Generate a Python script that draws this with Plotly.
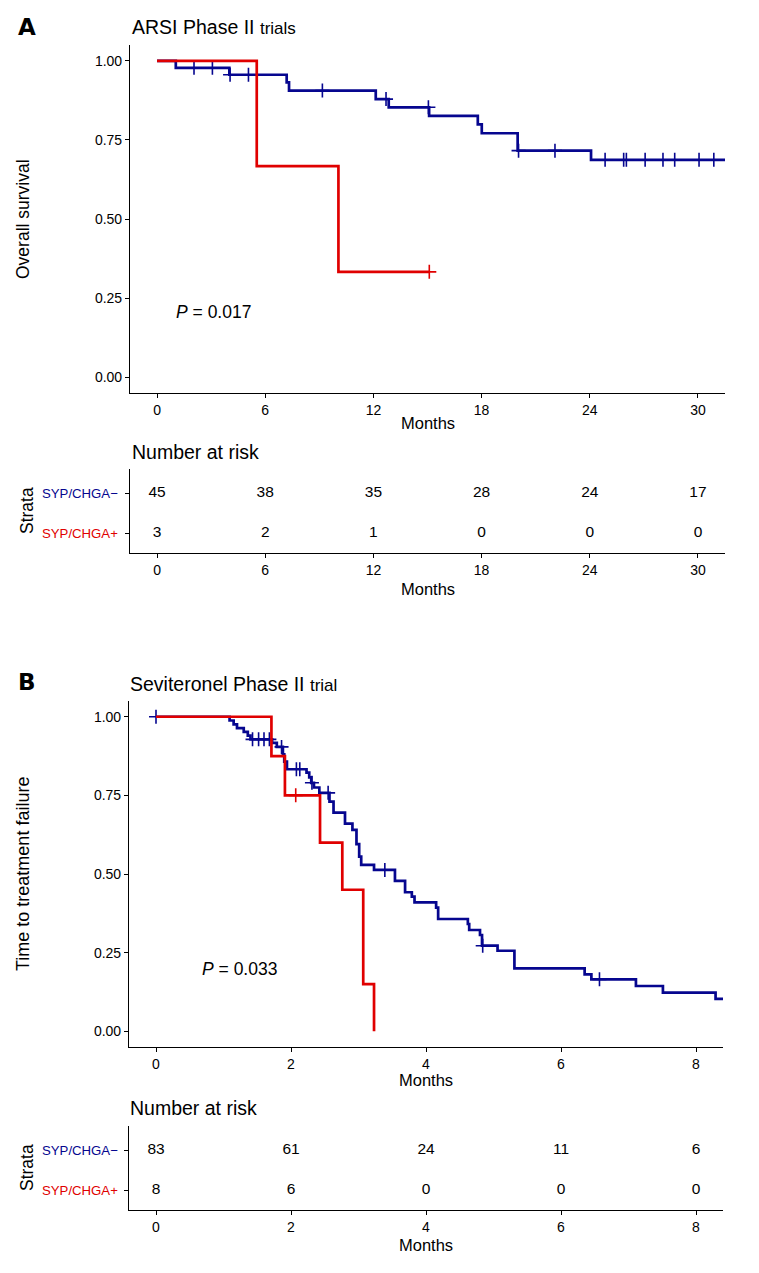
import numpy as np
import plotly.graph_objects as go

W, H = 759, 1273

# ---------------- Panel A data (ARSI Phase II trials) ----------------
a_neg_t = [0, 1.04, 4.01, 7.19, 7.32, 12.13, 12.85, 15.09, 17.79, 18.01, 20.00, 24.07, 33.0]
a_neg_s = [1.0, 0.978, 0.956, 0.932, 0.906, 0.879, 0.853, 0.826, 0.799, 0.771, 0.716, 0.687, 0.687]
a_neg_cens = [2.05, 3.07, 4.05, 5.07, 9.17, 12.7, 15.05, 20.05, 22.07, 24.85, 25.88, 26.03,
              27.07, 28.06, 28.71, 30.06, 30.88]
a_pos_t = [0, 5.53, 10.06, 15.1]
a_pos_s = [1.0, 0.667, 0.333, 0.333]
a_pos_cens = [15.1]

a_risk_times = [0, 6, 12, 18, 24, 30]
a_risk_neg = [45, 38, 35, 28, 24, 17]
a_risk_pos = [3, 2, 1, 0, 0, 0]

# ---------------- Panel B data (Seviteronel Phase II trial) ----------------
b_neg_t = [0, 1.09, 1.15, 1.20, 1.30, 1.36, 1.40, 1.72, 1.79, 1.88, 1.90, 1.94, 2.23, 2.27,
           2.30, 2.34, 2.42, 2.57, 2.63, 2.80, 2.91, 2.97, 3.01, 3.04, 3.23, 3.54, 3.69,
           3.79, 3.83, 4.15, 4.18, 4.62, 4.64, 4.80, 4.83, 5.06, 5.31, 6.35, 6.45, 7.11,
           7.51, 8.29, 8.6]
b_neg_s = [1.0, 0.988, 0.976, 0.964, 0.952, 0.940, 0.928, 0.917, 0.904, 0.880, 0.857, 0.833,
           0.822, 0.807, 0.790, 0.775, 0.758, 0.730, 0.695, 0.660, 0.640, 0.595, 0.555,
           0.529, 0.513, 0.478, 0.442, 0.428, 0.410, 0.393, 0.357, 0.341, 0.322, 0.306,
           0.272, 0.256, 0.200, 0.181, 0.165, 0.144, 0.123, 0.103, 0.103]
b_neg_cens = [0.0, 1.43, 1.52, 1.60, 1.68, 1.86, 2.08, 2.13, 2.31, 2.55, 3.39, 4.84, 6.57]
b_pos_t = [0, 1.71, 1.91, 2.43, 2.76, 3.07, 3.23]
b_pos_s = [1.0, 0.875, 0.75, 0.60, 0.45, 0.15, 0.0]
b_pos_cens = [2.07]

b_risk_times = [0, 2, 4, 6, 8]
b_risk_neg = [83, 61, 24, 11, 6]
b_risk_pos = [8, 6, 0, 0, 0]

strata = ["SYP/CHGA\u2212", "SYP/CHGA+"]
BLUE = "#06068F"
RED = "#E00000"
FONT = "Liberation Sans, Arial, Helvetica, sans-serif"
NARROW = "Liberation Sans Narrow, Liberation Sans, Arial, sans-serif"


def surv_at(times, survs, c):
    idx = np.searchsorted(np.array(times), np.array(c), side="right") - 1
    return list(np.array(survs)[idx])


def px(x):
    return x / W


def py(y):
    return 1 - y / H


fig = go.Figure()


def add_curves(t, s, cens, color, xa, ya):
    fig.add_trace(go.Scatter(x=t, y=s, mode="lines", line=dict(color=color, width=2.7, shape="hv"),
                             xaxis=xa, yaxis=ya, showlegend=False, hoverinfo="skip"))
    fig.add_trace(go.Scatter(x=cens, y=surv_at(t, s, cens), mode="markers",
                             marker=dict(symbol="cross-thin", size=10, line=dict(color=color, width=1.6)),
                             xaxis=xa, yaxis=ya, showlegend=False, hoverinfo="skip"))


add_curves(a_neg_t, a_neg_s, a_neg_cens, BLUE, "x", "y")
add_curves(a_pos_t, a_pos_s, a_pos_cens, RED, "x", "y")
add_curves(b_neg_t, b_neg_s, b_neg_cens, BLUE, "x3", "y3")
add_curves(b_pos_t, b_pos_s, b_pos_cens, RED, "x3", "y3")


def add_table(times, neg, pos, xa, ya):
    fig.add_trace(go.Scatter(x=times, y=[2] * len(times), text=[str(v) for v in neg], mode="text",
                             textfont=dict(family=NARROW, size=15.5, color="black"),
                             xaxis=xa, yaxis=ya, showlegend=False, hoverinfo="skip"))
    fig.add_trace(go.Scatter(x=times, y=[1] * len(times), text=[str(v) for v in pos], mode="text",
                             textfont=dict(family=NARROW, size=15.5, color="black"),
                             xaxis=xa, yaxis=ya, showlegend=False, hoverinfo="skip"))


add_table(a_risk_times, a_risk_neg, a_risk_pos, "x2", "y2")
add_table(b_risk_times, b_risk_neg, b_risk_pos, "x4", "y4")

axis_common = dict(showgrid=False, zeroline=False, showline=True, linecolor="black", linewidth=1.1,
                   ticks="outside", ticklen=4, tickwidth=1.1, tickcolor="black")

xA = [px(130), px(725)]
xB = [px(129), px(723)]
XT = dict(family=NARROW, size=14)
YT = dict(family=FONT, size=14)

layout = dict(
    width=W, height=H, margin=dict(l=0, r=0, t=0, b=0),
    paper_bgcolor="white", plot_bgcolor="white", showlegend=False,
    font=dict(family=FONT, color="black"),
    xaxis=dict(domain=xA, anchor="y", range=[-1.5, 31.5], tickvals=a_risk_times,
               tickfont=XT, **axis_common),
    yaxis=dict(domain=[py(393), py(45)], anchor="x", range=[-0.05, 1.05],
               tickvals=[0, 0.25, 0.5, 0.75, 1.0], ticktext=["0.00", "0.25", "0.50", "0.75", "1.00"],
               tickfont=YT, **axis_common),
    xaxis2=dict(domain=xA, anchor="y2", range=[-1.5, 31.5], tickvals=a_risk_times,
                tickfont=XT, **axis_common),
    yaxis2=dict(domain=[py(553), py(469)], anchor="x2", range=[0.5, 2.6], tickvals=[1, 2],
                showticklabels=False, **axis_common),
    xaxis3=dict(domain=xB, anchor="y3", range=[-0.4, 8.4], tickvals=b_risk_times,
                tickfont=XT, **axis_common),
    yaxis3=dict(domain=[py(1047), py(701)], anchor="x3", range=[-0.05, 1.05],
                tickvals=[0, 0.25, 0.5, 0.75, 1.0], ticktext=["0.00", "0.25", "0.50", "0.75", "1.00"],
                tickfont=YT, **axis_common),
    xaxis4=dict(domain=xB, anchor="y4", range=[-0.4, 8.4], tickvals=b_risk_times,
                tickfont=XT, **axis_common),
    yaxis4=dict(domain=[py(1210), py(1126)], anchor="x4", range=[0.5, 2.6], tickvals=[1, 2],
                showticklabels=False, **axis_common),
)

ann = []


def text(x, y, s, size, family=FONT, xanchor="left", angle=0, color="black", xref="paper", yref="paper"):
    ann.append(dict(x=x, y=y, xref=xref, yref=yref, text=s, showarrow=False, xanchor=xanchor,
                    yanchor="middle", textangle=angle, font=dict(family=family, size=size, color=color)))


# Panel letters
text(px(16), py(27), "<b>A</b>", 23, family="DejaVu Sans, Liberation Sans")
text(px(16), py(682), "<b>B</b>", 23, family="DejaVu Sans, Liberation Sans")
# Titles
text(px(130), py(27), "ARSI Phase II <span style='font-size:17px'>trials</span>", 19.5)
text(px(128), py(684), "Seviteronel Phase II <span style='font-size:17px'>trial</span>", 19.5)
# Y titles
text(px(23), py(219), "Overall survival", 17.5, xanchor="center", angle=-90)
text(px(23), py(874), "Time to treatment failure", 18, xanchor="center", angle=-90)
text(px(27), py(511), "Strata", 17.5, xanchor="center", angle=-90)
text(px(27), py(1168), "Strata", 17.5, xanchor="center", angle=-90)
# Months
for xx, yy in [(428, 423), (428, 589), (426, 1080), (426, 1245)]:
    text(px(xx), py(yy), "Months", 16.5, family=NARROW, xanchor="center")
# Number at risk
text(px(130), py(452), "Number at risk", 19.5, family=NARROW)
text(px(128), py(1108), "Number at risk", 19.5, family=NARROW)
# Strata labels
for ya in ["y2", "y4"]:
    text(px(120), 2, strata[0], 13.2, family=NARROW, xanchor="right", color=BLUE, yref=ya)
    text(px(120), 1, strata[1], 13.2, family=NARROW, xanchor="right", color=RED, yref=ya)
# P values
text(px(174), py(312), "<i>P</i> = 0.017", 17.5)
text(px(200), py(969), "<i>P</i> = 0.033", 17.5)

layout["annotations"] = ann
fig.update_layout(**layout)
fig.write_html("out.html", config={"displayModeBar": False},
               post_script="document.body.style.margin='0px';document.body.style.padding='0px';")
